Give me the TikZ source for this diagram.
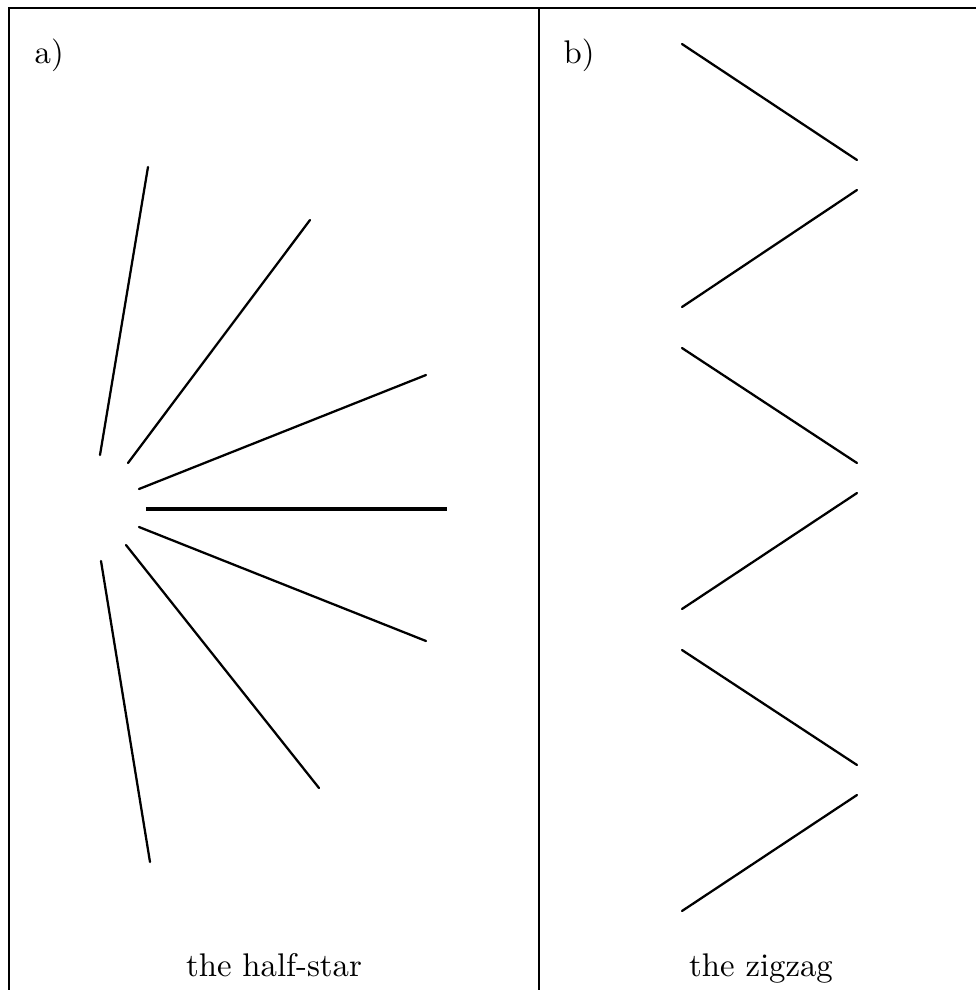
\documentclass[tikz,border=0pt]{standalone}
\begin{document}
\begin{tikzpicture}[x=0.3175pt,y=-0.3175pt,
  ray/.style={line width=0.72pt, line cap=round},
  thick ray/.style={line width=1.0pt},
  frame/.style={line width=0.66pt},
  lbl/.style={inner sep=0pt, font=\fontsize{10.4}{12}\selectfont}]
\useasboundingbox (0,0) rectangle (976,990);
% frame
\coordinate (tl) at (9,8);
\coordinate (tr) at (976,8);
\coordinate (bl) at (9,990);
\coordinate (tm) at (539,8);
\coordinate (bm) at (539,990);
\draw[frame] (bl) -- (tl) -- (tr);
\draw[frame] (tm) -- (bm);
% labels
\node[lbl, anchor=base west] (la) at (34,63) {a)};
\node[lbl, anchor=base west] (lb) at (563,63) {b)};
\node[lbl, anchor=base] (ca) at (274,976) {the half-star};
\node[lbl, anchor=base] (cb) at (761,976) {the zigzag};
% half-star
\coordinate (s1a) at (100,455); \coordinate (s1b) at (148,167);
\coordinate (s2a) at (128,463); \coordinate (s2b) at (310,220);
\coordinate (s3a) at (139,489); \coordinate (s3b) at (426,375);
\coordinate (s4a) at (146,509); \coordinate (s4b) at (447,509);
\coordinate (s5a) at (139,527); \coordinate (s5b) at (426,641);
\coordinate (s6a) at (126,545); \coordinate (s6b) at (319,788);
\coordinate (s7a) at (101,561); \coordinate (s7b) at (150,862);
\draw[ray] (s1a) -- (s1b);
\draw[ray] (s2a) -- (s2b);
\draw[ray] (s3a) -- (s3b);
\draw[thick ray] (s4a) -- (s4b);
\draw[ray] (s5a) -- (s5b);
\draw[ray] (s6a) -- (s6b);
\draw[ray] (s7a) -- (s7b);
% zigzag
\coordinate (z1a) at (682,44);  \coordinate (z1b) at (857,160);
\coordinate (z2a) at (857,190); \coordinate (z2b) at (682,307);
\coordinate (z3a) at (682,348); \coordinate (z3b) at (857,463);
\coordinate (z4a) at (857,493); \coordinate (z4b) at (682,609);
\coordinate (z5a) at (682,650); \coordinate (z5b) at (857,765);
\coordinate (z6a) at (857,795); \coordinate (z6b) at (682,911);
\draw[ray] (z1a) -- (z1b);
\draw[ray] (z2a) -- (z2b);
\draw[ray] (z3a) -- (z3b);
\draw[ray] (z4a) -- (z4b);
\draw[ray] (z5a) -- (z5b);
\draw[ray] (z6a) -- (z6b);
\end{tikzpicture}
\end{document}
